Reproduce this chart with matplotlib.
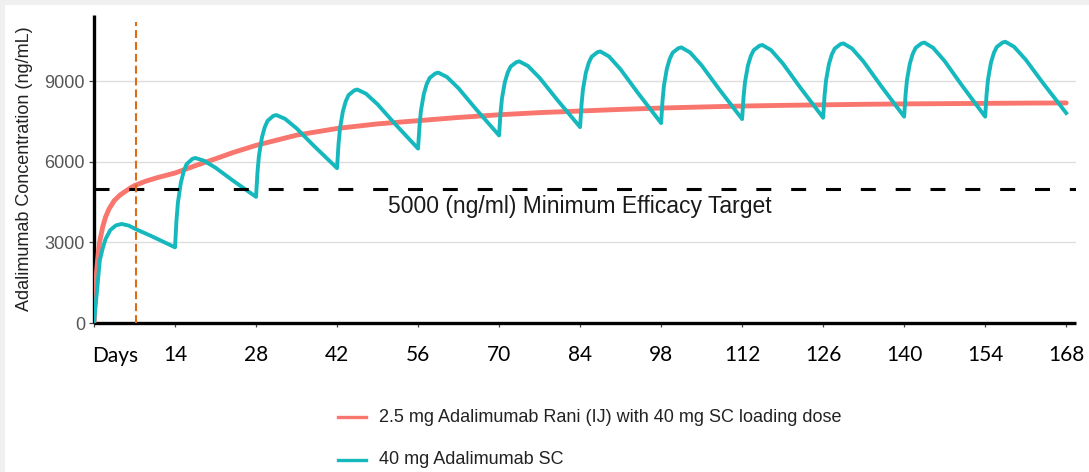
import matplotlib
matplotlib.use("Agg")
import matplotlib.pyplot as plt
from matplotlib.lines import Line2D
from matplotlib.patches import Rectangle

# ---------------- data ----------------
rani_days = [0, 0.25, 0.5, 0.75, 1, 1.5, 2, 2.6, 3.5, 4.5, 6, 7, 9, 11, 14, 18, 21, 24, 28,
             35, 42, 49, 56, 63, 70, 77, 84, 91, 98, 105, 112, 119, 126, 133, 140, 147,
             154, 161, 168]
rani_conc = [0, 1300, 2050, 2650, 3050, 3580, 3950, 4250, 4560, 4770, 4990, 5120, 5290,
             5420, 5590, 5900, 6120, 6350, 6620, 7000, 7250, 7420, 7540, 7660, 7760, 7840,
             7900, 7960, 8010, 8050, 8085, 8110, 8130, 8150, 8165, 8175, 8185, 8195, 8200]

sc_days = [0, 0.25, 0.5, 1, 1.5, 2, 2.8, 3.8, 4.8, 6, 7.2, 10,
           14, 14.25, 14.5, 15, 15.5, 16, 17, 17.5, 19, 21, 24,
           28, 28.25, 28.5, 29, 29.5, 30, 31, 31.5, 33, 35, 38,
           42, 42.25, 42.5, 43, 43.5, 44, 45, 45.5, 47, 49, 52,
           56, 56.25, 56.5, 57, 57.5, 58, 59, 59.5, 61, 63, 66,
           70, 70.25, 70.5, 71, 71.5, 72, 73, 73.5, 75, 77, 80,
           84, 84.25, 84.5, 85, 85.5, 86, 87, 87.5, 89, 91, 94,
           98, 98.25, 98.5, 99, 99.5, 100, 101, 101.5, 103, 105, 108,
           112, 112.25, 112.5, 113, 113.5, 114, 115, 115.5, 117, 119, 122,
           126, 126.25, 126.5, 127, 127.5, 128, 129, 129.5, 131, 133, 136,
           140, 140.25, 140.5, 141, 141.5, 142, 143, 143.5, 145, 147, 150,
           154, 154.25, 154.5, 155, 155.5, 156, 157, 157.5, 159, 161, 164,
           168]
sc_conc = [0, 600, 1150, 2330, 2780, 3130, 3460, 3640, 3690, 3630, 3500, 3230,
           2820, 3819, 4485, 5218, 5651, 5917, 6117, 6150, 6048, 5787, 5309,
           4700, 5615, 6225, 6896, 7293, 7537, 7720, 7750, 7611, 7255, 6602,
           5770, 6649, 7235, 7880, 8261, 8495, 8671, 8700, 8546, 8150, 7424,
           6500, 7349, 7915, 8538, 8906, 9132, 9302, 9330, 9166, 8745, 7973,
           6990, 7818, 8370, 8977, 9336, 9557, 9722, 9750, 9578, 9137, 8329,
           7300, 8146, 8710, 9330, 9697, 9923, 10092, 10120, 9933, 9452, 8571,
           7450, 8296, 8860, 9480, 9847, 10073, 10242, 10270, 10083, 9602, 8721,
           7600, 8428, 8980, 9587, 9946, 10167, 10332, 10360, 10170, 9682, 8788,
           7650, 8481, 9035, 9644, 10005, 10226, 10392, 10420, 10229, 9737, 8837,
           7690, 8518, 9070, 9677, 10036, 10257, 10422, 10450, 10257, 9760, 8849,
           7690, 8527, 9085, 9699, 10062, 10285, 10452, 10480, 10294, 9816, 8941,
           7826]

x_ticks = [0, 14, 28, 42, 56, 70, 84, 98, 112, 126, 140, 154, 168]
x_tick_labels = ["", "14", "28", "42", "56", "70", "84", "98", "112", "126", "140", "154", "168"]
y_ticks = [0, 3000, 6000, 9000]
target_value = 5000
loading_day = 7.2

label_rani = "2.5 mg Adalimumab Rani (IJ) with 40 mg SC loading dose"
label_sc = "40 mg Adalimumab SC"
target_text = "5000 (ng/ml) Minimum Efficacy Target"
y_label = "Adalimumab Concentration (ng/mL)"

# ---------------- figure ----------------
W, H = 1089, 472
fig = plt.figure(figsize=(W / 100, H / 100), dpi=100)
fig.patch.set_facecolor("white")
# thin gray frame on top and left
fig.add_artist(Rectangle((0, 0), 5 / W, 1, transform=fig.transFigure,
                         facecolor="#f0f0f0", edgecolor="none", zorder=-10))
fig.add_artist(Rectangle((0, 1 - 5 / H), 1, 5 / H, transform=fig.transFigure,
                         facecolor="#f0f0f0", edgecolor="none", zorder=-10))

ax_l, ax_r, ax_t, ax_b = 94, 1076, 15, 323
ax = fig.add_axes([ax_l / W, 1 - ax_b / H, (ax_r - ax_l) / W, (ax_b - ax_t) / H])
ax.set_facecolor("white")

red = "#F8766D"
teal = "#14b8bd"

ax.plot(rani_days, rani_conc, color=red, lw=3.5, solid_capstyle="round", zorder=3)
ax.plot(sc_days, sc_conc, color=teal, lw=2.8, solid_joinstyle="round", zorder=4)

ax.axhline(target_value, color="black", lw=2.2, dashes=(4.9, 6.5), zorder=5)
ax.plot([loading_day, loading_day], [0, 11220], color="#de6c14", lw=1.5,
        dashes=(3.8, 1.9), zorder=6)
ax.text(84, 4330, target_text, ha="center", va="center", fontsize=16.5,
        family="Liberation Sans", color="#1a1a1a", zorder=7)

ax.set_xlim(0, 169.7)
ax.set_ylim(0, 11478)

for s in ["top", "right"]:
    ax.spines[s].set_visible(False)
for s in ["left", "bottom"]:
    ax.spines[s].set_linewidth(2.4)
    ax.spines[s].set_color("black")
    ax.spines[s].set_capstyle("butt")

ax.set_yticks(y_ticks)
ax.set_yticklabels([str(v) for v in y_ticks], fontsize=13, family="Liberation Sans",
                   color="#555555")
ax.yaxis.grid(True, color="#dedede", lw=1.0)
ax.set_axisbelow(True)
ax.tick_params(axis="y", length=3.5, width=0.9, color="#444444", pad=3)

ax.set_xticks(x_ticks)
ax.set_xticklabels(x_tick_labels, fontsize=15, family="Lato", color="black")
ax.tick_params(axis="x", length=3, width=0.9, color="#444444", pad=13)
ax.text(-0.4, -0.075, "Days", transform=ax.get_xaxis_transform(), ha="left", va="top",
        fontsize=15, family="Lato", color="black")

ax.set_ylabel(y_label, fontsize=13, family="Liberation Sans", color="#222222", labelpad=8)

# legend (manual)
for yy, col, lab in [(417, red, label_rani), (460, teal, label_sc)]:
    fig.add_artist(Line2D([338 / W, 366 / W], [1 - yy / H, 1 - yy / H],
                          transform=fig.transFigure, color=col, lw=2.4))
    fig.text(379 / W, 1 - yy / H, lab, ha="left", va="center", fontsize=13,
             family="Liberation Sans", color="#222222")

fig.savefig("out.png", dpi=100, facecolor=fig.get_facecolor())
